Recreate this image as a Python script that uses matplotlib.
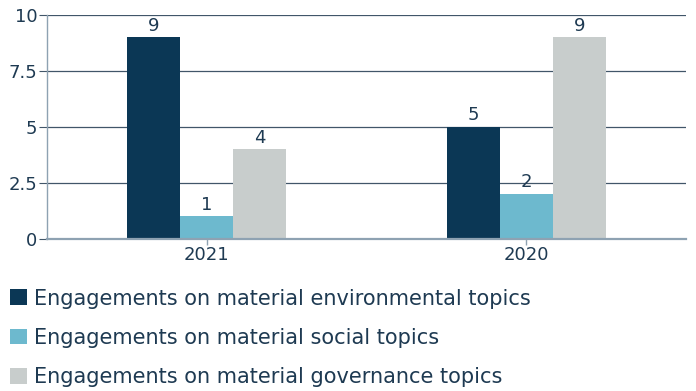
import matplotlib.pyplot as plt
import numpy as np
from matplotlib.patches import Patch

plt.rcParams['font.family'] = ['DejaVu Sans']

years = ['2021', '2020']
environmental = [9, 5]
social = [1, 2]
governance = [4, 9]
series_labels = ['Engagements on material environmental topics',
                 'Engagements on material social topics',
                 'Engagements on material governance topics']
colors = ['#0B3755', '#6DB9CE', '#C8CDCC']
text_color = '#1E3A52'
grid_color = '#415669'
axis_color = '#8EA2B2'

fig = plt.figure(figsize=(6.96, 3.91), dpi=100)
ax = fig.add_axes([0.0675, 0.389, 0.918, 0.573])

x = np.arange(len(years))
w = 0.166
for i, (vals, c) in enumerate(zip([environmental, social, governance], colors)):
    bars = ax.bar(x + (i - 1) * w, vals, w, color=c, zorder=3)
    for b, v in zip(bars, vals):
        ax.text(b.get_x() + b.get_width() / 2, v + 0.12, str(v), ha='center', va='bottom',
                fontsize=13, color=text_color)

ax.set_xlim(-0.5, 1.5)
ax.set_ylim(0, 10)
ax.set_yticks([0, 2.5, 5, 7.5, 10])
ax.set_yticklabels(['0', '2.5', '5', '7.5', '10'])
ax.set_xticks(x)
ax.set_xticklabels(years)
ax.tick_params(axis='both', labelsize=13, labelcolor=text_color)
ax.tick_params(axis='y', length=6, color=grid_color, width=0.8, pad=1)
ax.tick_params(axis='x', length=4, color=axis_color, width=1, pad=1)
ax.grid(axis='y', color=grid_color, linewidth=0.9, zorder=0)
for s in ['top', 'right']:
    ax.spines[s].set_visible(False)
ax.spines['left'].set_color(axis_color)
ax.spines['left'].set_linewidth(1.0)
ax.spines['bottom'].set_color(axis_color)
ax.spines['bottom'].set_linewidth(1.6)
ax.spines['bottom'].set_zorder(4)

handles = [Patch(facecolor=c, label=l) for c, l in zip(colors, series_labels)]
leg = fig.legend(handles=handles, loc='upper left', bbox_to_anchor=(0.0144, 0.262),
                 frameon=False, fontsize=15, labelspacing=0.92, handlelength=0.8,
                 handleheight=0.8, handletextpad=0.35, borderaxespad=0, borderpad=0)
for t in leg.get_texts():
    t.set_color(text_color)

fig.savefig('out.png', dpi=100)
